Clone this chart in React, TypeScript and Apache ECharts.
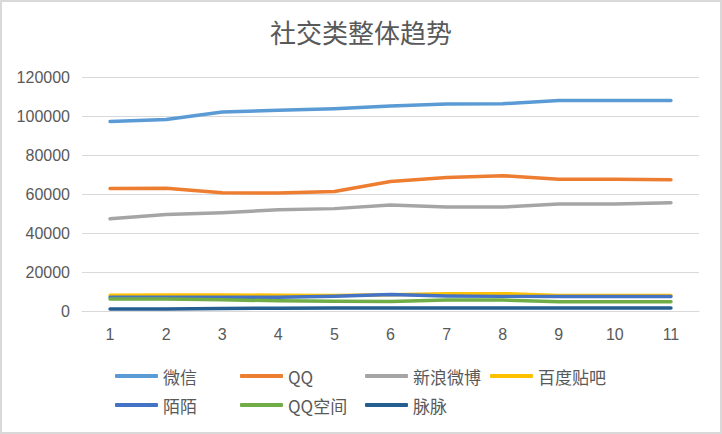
import React, { useEffect, useRef } from "react";
import * as echarts from "echarts";

const categories = ["1", "2", "3", "4", "5", "6", "7", "8", "9", "10", "11"];
const seriesNames = ["微信", "QQ", "新浪微博", "百度贴吧", "陌陌", "QQ空间", "脉脉"];
const wechat = [97200, 98200, 102000, 102900, 103700, 105100, 106100, 106300, 108000, 108000, 107900];
const qq = [62800, 63000, 60600, 60500, 61300, 66400, 68500, 69400, 67600, 67600, 67300];
const weibo = [47300, 49500, 50400, 51900, 52500, 54400, 53300, 53300, 54900, 54900, 55500];
const tieba = [8100, 8200, 8200, 8100, 8000, 8300, 8900, 8900, 8000, 7900, 7900];
const momo = [7100, 7100, 7000, 7000, 7600, 8500, 7700, 7500, 7500, 7500, 7500];
const qzone = [6200, 6200, 5800, 5200, 5000, 4900, 5600, 5600, 4800, 4700, 4700];
const maimai = [1000, 1000, 1300, 1400, 1500, 1500, 1600, 1600, 1600, 1600, 1600];
const colors = ["#5B9BD5", "#ED7D31", "#A5A5A5", "#FFC000", "#4472C4", "#70AD47", "#255E91"];
const yTicks = [0, 20000, 40000, 60000, 80000, 100000, 120000];

export default function App() {
  const ref = useRef<HTMLDivElement>(null);
  useEffect(() => {
    if (!ref.current) return;
    const chart = echarts.init(ref.current, null, { renderer: "svg" });
    const values = [wechat, qq, weibo, tieba, momo, qzone, maimai];
    const legendCommon = {
      left: 115,
      padding: 0,
      orient: "horizontal" as const,
      icon: "roundRect",
      itemWidth: 43,
      itemHeight: 4,
      itemGap: 8,
      textStyle: {
        color: "#595959",
        fontSize: 17,
        fontFamily: "Noto Sans CJK SC",
        width: 69,
        lineHeight: 20,
      },
    };
    chart.setOption({
      animation: false,
      backgroundColor: "#ffffff",
      color: colors,
      title: {
        text: "社交类整体趋势",
        left: "center",
        top: 13,
        textStyle: {
          color: "#595959",
          fontSize: 26,
          fontWeight: "normal",
          fontFamily: "Noto Sans CJK SC",
        },
      },
      graphic: [
        {
          type: "rect",
          shape: { x: 1, y: 1, width: 720, height: 432 },
          style: { fill: "none", stroke: "#d9d9d9", lineWidth: 2 },
          silent: true,
        },
      ],
      legend: [
        { ...legendCommon, top: 366, data: seriesNames.slice(0, 4) },
        { ...legendCommon, top: 395, data: seriesNames.slice(4) },
      ],
      grid: { left: 82, right: 23, top: 77, bottom: 123, containLabel: false },
      xAxis: {
        type: "category",
        data: categories,
        boundaryGap: true,
        axisLine: { show: true, lineStyle: { color: "#d9d9d9", width: 1 } },
        axisTick: { show: false },
        axisLabel: {
          color: "#595959",
          fontSize: 16,
          fontFamily: "Liberation Sans",
          margin: 15,
        },
      },
      yAxis: {
        type: "value",
        min: yTicks[0],
        max: yTicks[yTicks.length - 1],
        interval: yTicks[1] - yTicks[0],
        axisLine: { show: false },
        axisTick: { show: false },
        splitLine: { lineStyle: { color: "#d9d9d9", width: 1 } },
        axisLabel: {
          color: "#595959",
          fontSize: 16,
          fontFamily: "Liberation Sans",
          margin: 12,
          formatter: (v: number) => String(v),
        },
      },
      series: seriesNames.map((name, i) => ({
        name,
        type: "line",
        data: values[i],
        symbol: "none",
        showSymbol: false,
        lineStyle: { width: 3.5, color: colors[i], cap: "round", join: "round" },
        itemStyle: { color: colors[i] },
        z: 2 + i,
      })),
    });
    return () => chart.dispose();
  }, []);
  return (
    <div
      ref={ref}
      style={{ position: "absolute", left: 0, top: 0, width: 722, height: 434, background: "#fff" }}
    />
  );
}
